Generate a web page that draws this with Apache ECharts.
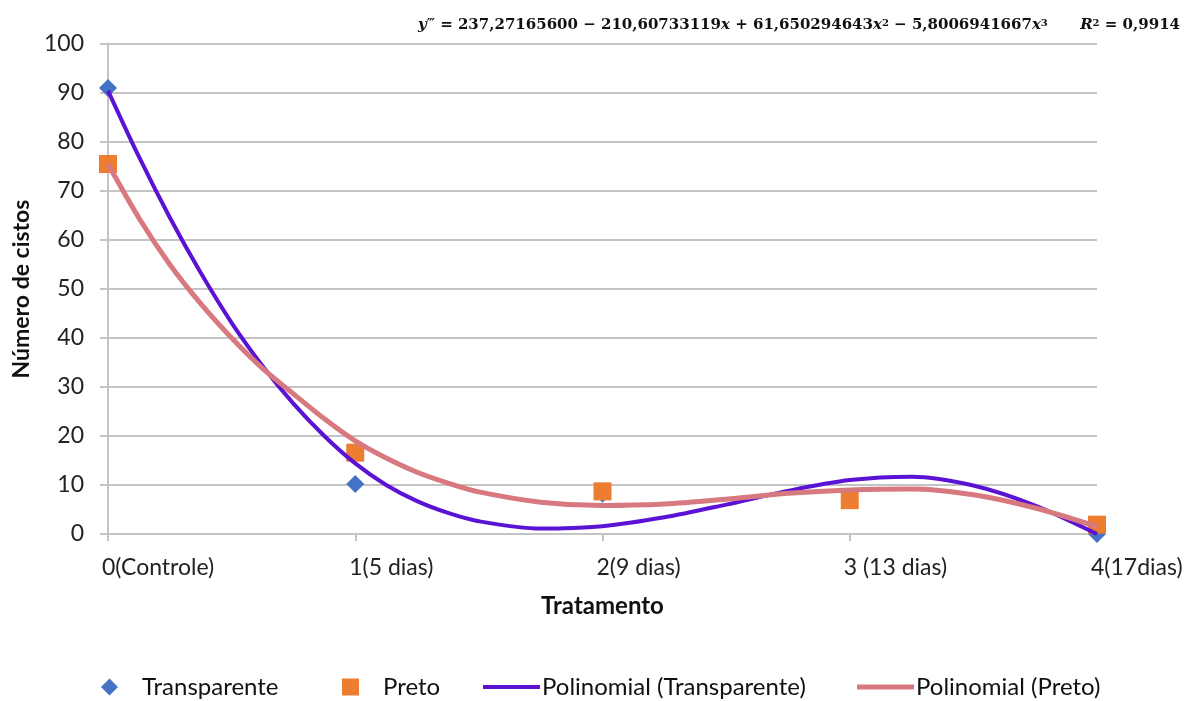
<!DOCTYPE html>
<html>
<head>
<meta charset="utf-8">
<script src="https://cdn.jsdelivr.net/npm/echarts@6/dist/echarts.min.js"></script>
<style>
html,body{margin:0;padding:0;background:#fff;}
#chart{width:1193px;height:701px;}
</style>
</head>
<body>
<div id="chart"></div>
<script>
// Category tick labels for x = 0..4
const tickLabels = ['0(Controle)', '1(5 dias)', '2(9 dias)', '3 (13 dias)', '4(17dias)'];
const xValues = [0, 1, 2, 3, 4];
// Observed values
const transparente = [91, 10.2, 8.2, 7.0, 0];
const preto = [75.5, 16.6, 8.7, 6.9, 1.9];
// Trend lines
const trendX = [0, 0.125, 0.25, 0.375, 0.5, 0.625, 0.75, 0.875, 1, 1.125, 1.25, 1.375, 1.5, 1.75, 2, 2.25, 2.5, 2.75, 3, 3.25, 3.5, 3.75, 4];
const polyTransparente = [90.5, 77, 64.6, 53.3, 43.1, 34.3, 26.6, 20.0, 14.4, 10.0, 6.7, 4.3, 2.6, 1.1, 1.6, 3.4, 6.0, 8.8, 11.0, 11.7, 9.9, 5.8, 0];
const polyPreto = [75.5, 64.5, 55, 47, 40, 33.8, 28.6, 23.5, 19, 15.5, 12.6, 10.4, 8.6, 6.5, 5.8, 6.1, 7.1, 8.3, 9.0, 9.2, 8.0, 5.3, 1.5];
const yTicks = [0, 10, 20, 30, 40, 50, 60, 70, 80, 90, 100];

const chart = echarts.init(document.getElementById('chart'), null, {renderer: 'canvas'});
const pair = (xs, ys) => xs.map((x, i) => [x, ys[i]]);
const FONT = 'Lato';
const gridColor = '#c4c4c4';

const legendBase = {
  orient: 'horizontal', top: 670, itemGap: 0,
  textStyle: {fontFamily: FONT, fontSize: 24, color: '#111'},
  selectedMode: false
};

chart.setOption({
  animation: false,
  backgroundColor: '#fff',
  grid: {left: 108, right: 96, top: 44, bottom: 167, containLabel: false},
  xAxis: {
    type: 'value', min: 0, max: 4, interval: 1,
    name: 'Tratamento', nameLocation: 'middle', nameGap: 60,
    nameTextStyle: {fontFamily: FONT, fontSize: 24, fontWeight: 'bold', color: '#111'},
    axisLine: {show: true, lineStyle: {color: gridColor, width: 2}},
    axisTick: {show: true, length: 7, lineStyle: {color: gridColor, width: 2}},
    splitLine: {show: false},
    axisLabel: {
      fontFamily: FONT, fontSize: 23, color: '#222', margin: 22,
      align: 'left', padding: [0, 0, 0, -6],
      formatter: v => tickLabels[xValues.indexOf(v)]
    }
  },
  yAxis: {
    type: 'value', min: 0, max: 100, interval: 10,
    name: 'Número de cistos', nameLocation: 'middle', nameGap: 74,
    nameTextStyle: {fontFamily: FONT, fontSize: 23, fontWeight: 'bold', color: '#111'},
    axisLine: {show: true, lineStyle: {color: gridColor, width: 2}},
    axisTick: {show: true, length: 8, lineStyle: {color: gridColor, width: 2}},
    splitLine: {show: true, lineStyle: {color: gridColor, width: 2}},
    axisLabel: {fontFamily: FONT, fontSize: 23, color: '#222', margin: 24,
      formatter: v => String(yTicks[yTicks.indexOf(v)])}
  },
  legend: [
    Object.assign({}, legendBase, {left: 96, data: [{name: 'Transparente', icon: 'diamond'}], itemWidth: 17, itemHeight: 17,
      textStyle: Object.assign({}, legendBase.textStyle, {padding: [0, 0, 0, 19]})}),
    Object.assign({}, legendBase, {left: 337, data: [{name: 'Preto', icon: 'rect'}], itemWidth: 17, itemHeight: 17,
      textStyle: Object.assign({}, legendBase.textStyle, {padding: [0, 0, 0, 19]})}),
    Object.assign({}, legendBase, {left: 478, data: [{name: 'Polinomial (Transparente)', icon: 'rect'}], itemWidth: 57, itemHeight: 4,
      textStyle: Object.assign({}, legendBase.textStyle, {padding: [0, 0, 0, -3]})}),
    Object.assign({}, legendBase, {left: 852, data: [{name: 'Polinomial (Preto)', icon: 'rect'}], itemWidth: 57, itemHeight: 5,
      textStyle: Object.assign({}, legendBase.textStyle, {padding: [0, 0, 0, -3]})})
  ],
  graphic: [
    {
      type: 'text', left: 418, top: 18, z: 100,
      style: {
        text: '{i|y}{p|‴} = 237,27165600 − 210,60733119{i|x} + 61,650294643{i|x}{s|2} − 5,8006941667{i|x}{s|3}',
        fontFamily: 'DejaVu Serif', fontSize: 15, fontWeight: 'bold', fill: '#111',
        rich: {
          i: {fontFamily: 'DejaVu Serif', fontStyle: 'italic', fontWeight: 'bold', fontSize: 15, fill: '#111'},
          p: {fontFamily: 'DejaVu Serif', fontWeight: 'bold', fontSize: 13, fill: '#111', verticalAlign: 'top'},
          s: {fontFamily: 'DejaVu Serif', fontWeight: 'bold', fontSize: 10, fill: '#111', verticalAlign: 'top', lineHeight: 14}
        }
      }
    },
    {
      type: 'text', right: 13, top: 18, z: 100,
      style: {
        text: '{i|R}{s|2} = 0,9914',
        fontFamily: 'DejaVu Serif', fontSize: 15, fontWeight: 'bold', fill: '#111',
        rich: {
          i: {fontFamily: 'DejaVu Serif', fontStyle: 'italic', fontWeight: 'bold', fontSize: 15, fill: '#111'},
          s: {fontFamily: 'DejaVu Serif', fontWeight: 'bold', fontSize: 10, fill: '#111', verticalAlign: 'top', lineHeight: 14}
        }
      }
    }
  ],
  series: [
    {
      name: 'Transparente', type: 'scatter', symbol: 'diamond', symbolSize: 18,
      itemStyle: {color: '#4472C4', opacity: 1}, z: 2,
      data: pair(xValues, transparente)
    },
    {
      name: 'Preto', type: 'scatter', symbol: 'rect', symbolSize: 18,
      itemStyle: {color: '#ED7D31', opacity: 1}, z: 3,
      data: pair(xValues, preto)
    },
    {
      name: 'Polinomial (Transparente)', type: 'line', smooth: 0.3, symbol: 'none', showSymbol: false,
      lineStyle: {color: '#5A12D4', width: 4}, itemStyle: {color: '#5A12D4'}, z: 4,
      data: pair(trendX, polyTransparente)
    },
    {
      name: 'Polinomial (Preto)', type: 'line', smooth: 0.3, symbol: 'none', showSymbol: false,
      lineStyle: {color: '#D8787F', width: 5}, itemStyle: {color: '#D8787F'}, z: 5,
      data: pair(trendX, polyPreto)
    }
  ]
});
</script>
</body>
</html>
